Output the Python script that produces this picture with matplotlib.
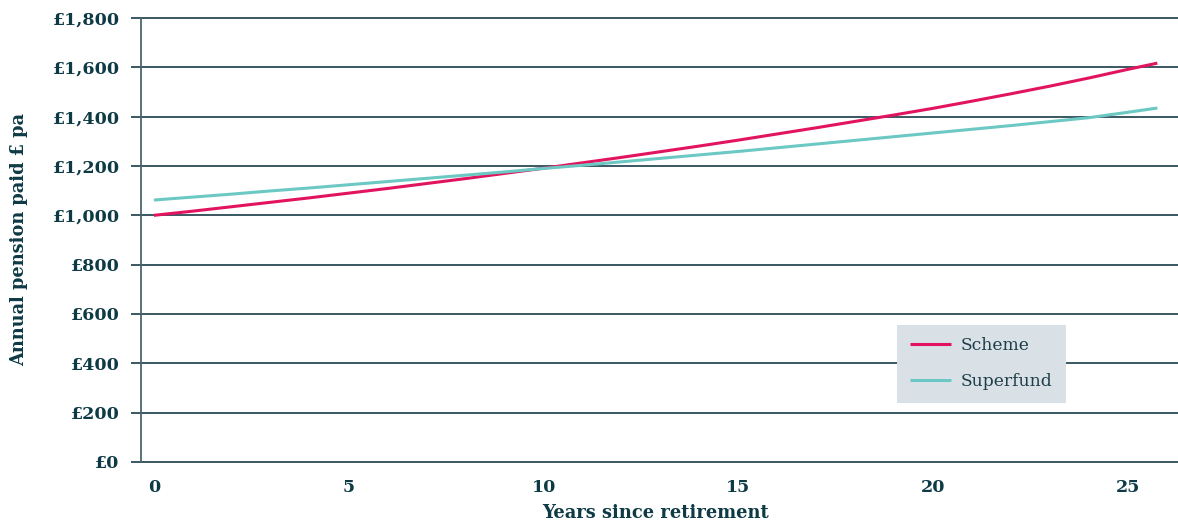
import matplotlib
matplotlib.use('Agg')
import matplotlib.pyplot as plt
from matplotlib.ticker import FuncFormatter

# annual pension paid (£ pa) by years since retirement
years = [0, 1, 2, 3, 4, 5, 6, 7, 8, 9, 10, 11, 12, 13, 14, 15, 16, 17, 18, 19,
         20, 21, 22, 23, 24, 25, 25.75]
scheme = [1000, 1017, 1035, 1053, 1071, 1090, 1109, 1129, 1149, 1170, 1191, 1213,
          1235, 1258, 1281, 1305, 1330, 1355, 1381, 1407, 1434, 1463, 1493, 1524,
          1557, 1592, 1617]
superfund = [1062, 1074, 1086, 1099, 1111, 1124, 1137, 1150, 1163, 1176, 1190, 1203,
             1217, 1231, 1245, 1259, 1274, 1289, 1304, 1319, 1334, 1349, 1364, 1380,
             1396, 1418, 1435]

y_ticks = [0, 200, 400, 600, 800, 1000, 1200, 1400, 1600, 1800]
x_ticks = [0, 5, 10, 15, 20, 25]

txt = '#0d3a45'
grid_col = '#2b4a55'

plt.rcParams['font.family'] = 'DejaVu Serif'

fig = plt.figure(figsize=(11.78, 5.27), dpi=100)
ax = fig.add_axes([141/1178, 1 - 462/527, 1037/1178, 444/527])

ax.plot(years, scheme, color='#e2145f', lw=2.2, label='Scheme', solid_capstyle='butt')
ax.plot(years, superfund, color='#6cc8c3', lw=2.2, label='Superfund', solid_capstyle='butt')

ax.set_ylim(0, 1800)
ax.set_xlim(-0.33, 26.28)
ax.set_yticks(y_ticks)
ax.set_xticks(x_ticks)
ax.yaxis.set_major_formatter(FuncFormatter(lambda v, p: '£{:,.0f}'.format(v)))

for v in y_ticks:
    ax.axhline(v, color=grid_col, lw=1.3, zorder=0, clip_on=False)

for s in ['top', 'right', 'bottom']:
    ax.spines[s].set_visible(False)
ax.spines['left'].set_color('#4a6670')
ax.spines['left'].set_linewidth(1.3)

ax.tick_params(axis='y', length=7.5, width=1.3, color=grid_col, pad=8,
               labelsize=12.6, labelcolor=txt)
ax.tick_params(axis='x', length=0, pad=12, labelsize=12.6, labelcolor=txt)
for lab in ax.get_xticklabels() + ax.get_yticklabels():
    lab.set_fontweight('bold')

ax.set_ylabel('Annual pension paid £ pa', fontsize=12.8, fontweight='bold', color=txt)
ax.set_xlabel('Years since retirement', fontsize=12.9, fontweight='bold', color=txt)
ax.yaxis.set_label_coords(-0.109, 0.5)
ax.xaxis.set_label_coords(0.496, -0.095)

leg = ax.legend(loc='lower left', bbox_to_anchor=(0.729, 0.133), borderaxespad=0,
                frameon=True, fancybox=False, facecolor='#d9e1e7', edgecolor='none',
                framealpha=1, fontsize=12.3, handlelength=2.4, handletextpad=0.6,
                labelspacing=1.1, borderpad=0.75)
for t in leg.get_texts():
    t.set_color('#1d3d48')
leg.get_frame().set_linewidth(0)

fig.savefig('out.png', dpi=100)
